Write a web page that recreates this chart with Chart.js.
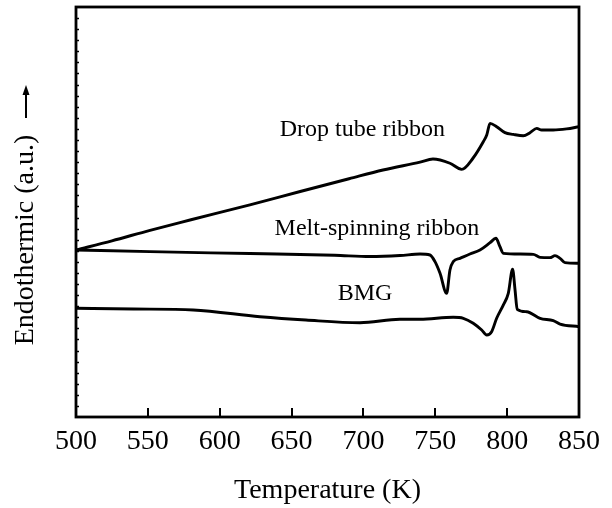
<!DOCTYPE html>
<html>
<head>
<meta charset="utf-8">
<script src="https://cdn.jsdelivr.net/npm/chart.js@4/dist/chart.umd.min.js"></script>
<style>
  html, body { margin: 0; padding: 0; background: #fff; }
</style>
</head>
<body>
<canvas id="chart" width="612" height="508"></canvas>
<script>
// DSC traces (temperature in K, signal in a.u.)
var drop_temp = [500, 525, 551.5, 580, 621, 656, 690, 713.6, 739.4, 748.4, 760.2, 768.4, 776.2, 783.4, 785.8, 788.1, 792.7, 798.5, 804.3, 811.2, 815.9, 820.6, 824, 832.1, 841.4, 850];
var drop_val = [15.07, 15.9, 16.85, 17.8, 19.15, 20.35, 21.5, 22.29, 23.0, 23.28, 22.9, 22.35, 23.35, 24.84, 25.45, 26.5, 26.2, 25.66, 25.5, 25.38, 25.66, 26.05, 25.9, 25.9, 26.0, 26.2];

var melt_temp = [500, 551.5, 621, 680, 704.6, 725.4, 739.4, 746.3, 749.8, 753.3, 757.9, 760.2, 762.5, 767.2, 774.1, 781.1, 788.1, 792.2, 795, 797.3, 808.9, 818.2, 822.9, 829.8, 833.3, 836.8, 840.3, 850];
var melt_val = [15.07, 14.92, 14.75, 14.6, 14.48, 14.57, 14.71, 14.62, 14.02, 12.97, 11.16, 13.27, 14.02, 14.32, 14.71, 15.07, 15.73, 16.13, 15.37, 14.77, 14.71, 14.68, 14.41, 14.38, 14.56, 14.32, 13.93, 13.87];

var bmg_temp = [500, 540, 581.6, 628, 660, 697.6, 725.4, 739.4, 762.5, 769.5, 776.4, 782.3, 785.8, 789.2, 792.7, 797.3, 800.8, 803.8, 805.5, 807, 813.6, 822.9, 832.1, 836.8, 850];
var bmg_val = [9.81, 9.75, 9.66, 9.05, 8.75, 8.51, 8.82, 8.82, 9.0, 8.91, 8.46, 7.85, 7.4, 7.7, 8.91, 10.1, 11.16, 13.33, 11.46, 9.72, 9.5, 8.91, 8.69, 8.39, 8.15];

var series_names = ["Drop tube ribbon", "Melt-spinning ribbon", "BMG"];
var x_ticks = [500, 550, 600, 650, 700, 750, 800, 850];

var serif = "'Liberation Serif', 'Times New Roman', serif";

function toPoints(xs, ys) {
  return xs.map(function (x, i) { return { x: x, y: ys[i] }; });
}

function curve(label, xs, ys) {
  return {
    label: label,
    data: toPoints(xs, ys),
    borderColor: "#000",
    borderWidth: 2.9,
    pointRadius: 0,
    fill: false,
    cubicInterpolationMode: "monotone",
  };
}

// frame, inward ticks, curve labels and y title
const decorations = {
  id: "decorations",
  afterDraw(chart) {
    const ctx = chart.ctx;
    const area = chart.chartArea;
    const xs = chart.scales.x;
    const ys = chart.scales.y;
    ctx.save();
    ctx.strokeStyle = "#000";
    ctx.fillStyle = "#000";

    // major x ticks pointing inward
    ctx.lineWidth = 2;
    x_ticks.slice(1, -1).forEach(function (t) {
      const px = Math.round(xs.getPixelForValue(t));
      ctx.beginPath();
      ctx.moveTo(px, area.bottom);
      ctx.lineTo(px, area.bottom - 9);
      ctx.stroke();
    });

    // minor ticks on the left axis
    ctx.lineWidth = 1.5;
    for (let v = 1; v < ys.max; v++) {
      const py = Math.round(ys.getPixelForValue(v)) + 0.5;
      ctx.beginPath();
      ctx.moveTo(area.left, py);
      ctx.lineTo(area.left + 3, py);
      ctx.stroke();
    }

    // box
    ctx.lineWidth = 2.8;
    ctx.strokeRect(area.left, area.top, area.right - area.left, area.bottom - area.top);

    // curve labels
    ctx.font = "24px " + serif;
    ctx.textAlign = "center";
    ctx.textBaseline = "alphabetic";
    const spots = [[699.3, 25.36], [709.4, 16.42], [701.1, 10.56]];
    series_names.forEach(function (name, i) {
      ctx.fillText(name, xs.getPixelForValue(spots[i][0]), ys.getPixelForValue(spots[i][1]));
    });

    // y title with arrow
    ctx.save();
    ctx.translate(33, 240);
    ctx.rotate(-Math.PI / 2);
    ctx.font = "28px " + serif;
    ctx.fillText("Endothermic (a.u.)", 0, 0);
    ctx.lineWidth = 2;
    ctx.beginPath();
    ctx.moveTo(122, -7);
    ctx.lineTo(148, -7);
    ctx.stroke();
    ctx.beginPath();
    ctx.moveTo(155, -7);
    ctx.lineTo(145, -10.5);
    ctx.lineTo(145, -3.5);
    ctx.closePath();
    ctx.fill();
    ctx.restore();

    ctx.restore();
  },
};

const config = {
  type: "line",
  data: {
    datasets: [
      curve(series_names[0], drop_temp, drop_val),
      curve(series_names[1], melt_temp, melt_val),
      curve(series_names[2], bmg_temp, bmg_val),
    ],
  },
  options: {
    responsive: false,
    animation: false,
    devicePixelRatio: 1,
    layout: { padding: { top: 7, right: 33, left: 0, bottom: 0 } },
    plugins: {
      legend: { display: false },
      tooltip: { enabled: false },
    },
    scales: {
      x: {
        type: "linear",
        min: 500,
        max: 850,
        afterFit: function (scale) { scale.height = 91; },
        afterBuildTicks: function (scale) {
          scale.ticks = x_ticks.map(function (v) { return { value: v }; });
        },
        ticks: {
          color: "#000",
          font: { family: serif, size: 28 },
          padding: 8,
          maxRotation: 0,
          autoSkip: false,
        },
        grid: { display: false, drawTicks: false },
        border: { display: false },
        title: {
          display: true,
          text: "Temperature (K)",
          color: "#000",
          font: { family: serif, size: 28 },
          padding: { top: 0, bottom: 1 },
        },
      },
      y: {
        type: "linear",
        min: 0,
        max: 37,
        afterFit: function (scale) { scale.width = 76; },
        ticks: { display: false },
        grid: { display: false, drawTicks: false },
        border: { display: false },
      },
    },
  },
  plugins: [decorations],
};

var chart = new Chart(document.getElementById("chart").getContext("2d"), config);
</script>
</body>
</html>
